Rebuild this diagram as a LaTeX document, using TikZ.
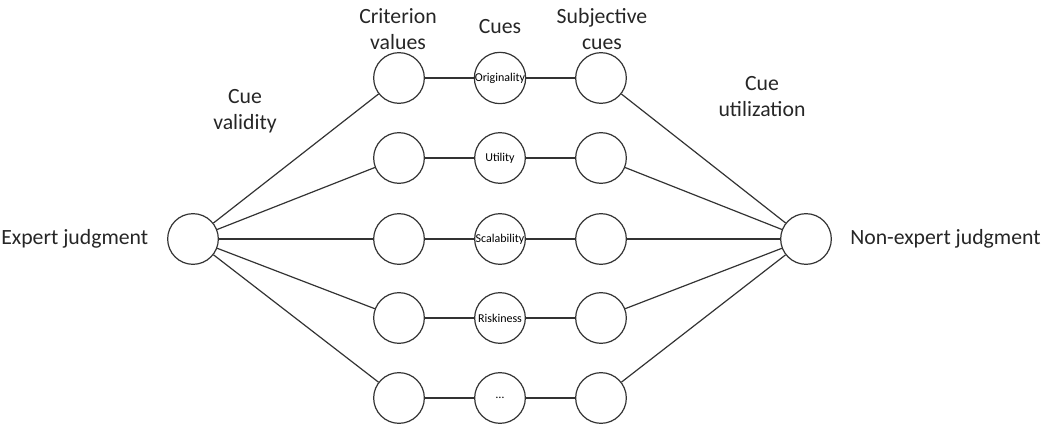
\documentclass[tikz,border=0pt]{standalone}
\usepackage{fontspec}
\setmainfont{Carlito}
\begin{document}
\begin{tikzpicture}[x=0.75pt,y=-0.75pt,
  circ/.style={circle,draw=black!80,line width=0.9pt,minimum size=38pt,inner sep=0pt,font=\fontsize{9}{10}\selectfont},
  lab/.style={align=center,font=\fontsize{16.3}{19.5}\selectfont,text=black!85,inner sep=0pt},
  conn/.style={draw=black!80,line width=0.9pt}]
\useasboundingbox (0,0) rectangle (1043,427);
\node[circ] (E) at (193,239) {};
\node[circ] (N) at (806,239) {};
\foreach \i/\y/\t in {1/78/Originality,2/158/Utility,3/239/Scalability,4/318/Riskiness,5/398/{\ldots}}{
  \node[circ] (C\i) at (399,\y) {};
  \node[circ] (Q\i) at (500,\y) {\t};
  \node[circ] (S\i) at (601,\y) {};
  \draw[conn] (E) -- (C\i);
  \draw[conn] (C\i) -- (Q\i);
  \draw[conn] (Q\i) -- (S\i);
  \draw[conn] (S\i) -- (N);
}
\node[lab,anchor=west] (el) at (1,239) {Expert judgment};
\node[lab,anchor=west] (nl) at (850,239) {Non-expert judgment};
\node[lab] (cv) at (245,111) {Cue\\validity};
\node[lab] (crit) at (398,29) {Criterion\\values};
\node[lab] (cues) at (500,27) {Cues};
\node[lab] (subj) at (602,29) {Subjective\\cues};
\node[lab] (cu) at (762,97) {Cue\\utilization};
\end{tikzpicture}
\end{document}
